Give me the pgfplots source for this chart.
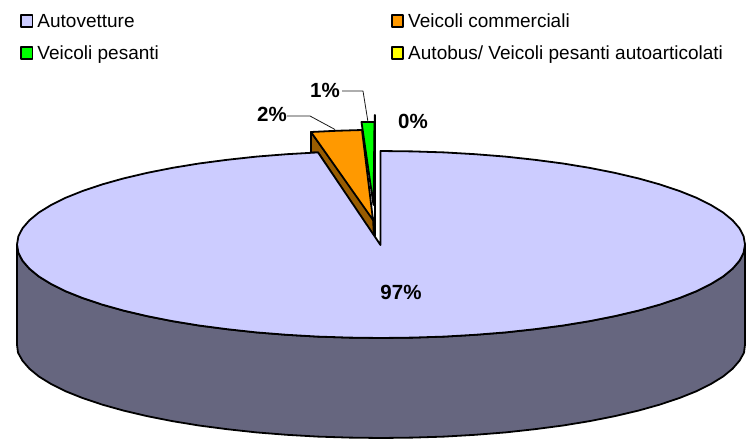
\documentclass[border=0pt]{standalone}
\usepackage{pgfplots}
\pgfplotsset{compat=1.18}
\usepackage{fontspec}
\setmainfont{Liberation Sans}
\definecolor{pl}{HTML}{CCCCFF}
\definecolor{pd}{HTML}{66667F}
\definecolor{og}{HTML}{FF9900}
\definecolor{br}{HTML}{995C00}
\definecolor{gr}{HTML}{00FF00}
\definecolor{ye}{HTML}{FFFF00}
\begin{document}
\begin{tikzpicture}
\useasboundingbox (0,0) rectangle (747pt,439pt);
\begin{axis}[
  width=747pt,height=439pt,scale only axis,hide axis,clip=false,
  xmin=0,xmax=747,ymin=0,ymax=439,y dir=reverse,
  legend columns=2,
  legend cell align=left,
  legend style={draw=none,fill=none,at={(0.027,0.971)},anchor=north west,
    font=\fontsize{19}{20}\selectfont,inner sep=0pt,outer sep=0pt,
    row sep=14.5pt,
    /tikz/column 1/.style={column sep=3pt},
    /tikz/column 2/.style={column sep=231pt},
    /tikz/column 3/.style={column sep=3pt},
    nodes={inner sep=1pt,outer sep=0pt}},
  every axis plot/.append style={line width=1.8pt,line join=round},
  legend image code/.code={\draw[#1,line width=1.8pt] (0pt,-5.5pt) rectangle (11.5pt,6pt);},
  pie/.style={draw=black,line width=1.8pt,line join=round},
]
% side of the main slice
\addplot[pie,fill=pd,forget plot] coordinates {
(745,244.5)(745,344.5)(744,352.7)(739.5,360.7)(732.6,368.7)(723.1,376.5)(710.9,384)(696.2,391.3)(679.2,398.1)(659.8,404.6)(638.4,410.6)(615,416.1)(589.8,421.1)(563,425.5)(534.8,429.2)(505.5,432.4)(475.2,434.8)(444.2,436.6)(412.7,437.6)(381,438)
(349.3,437.6)(317.8,436.6)(286.8,434.8)(256.5,432.4)(227.2,429.2)(199,425.5)(172.2,421.1)(147,416.1)(123.6,410.6)(102.2,404.6)(82.8,398.1)(65.8,391.3)(51.1,384)(38.9,376.5)(29.4,368.7)(22.5,360.7)(18,352.7)(17,344.5)(17,244.5)
(18.4,252.7)(22.5,260.7)(29.4,268.7)(38.9,276.5)(51.1,284)(65.8,291.3)(82.8,298.1)(102.2,304.6)(123.6,310.6)(147,316.1)(172.2,321.1)(199,325.5)(227.2,329.2)(256.5,332.4)(286.8,334.8)(317.8,336.6)(349.3,337.6)(381,338)
(412.7,337.6)(444.2,336.6)(475.2,334.8)(505.5,332.4)(534.8,329.2)(563,325.5)(589.8,321.1)(615,316.1)(638.4,310.6)(659.8,304.6)(679.2,298.1)(696.2,291.3)(710.9,284)(723.1,276.5)(732.6,268.7)(739.5,260.7)(743.6,252.7)
} -- cycle;
% side of the orange slice
\addplot[pie,fill=br,forget plot] coordinates {
(311,132)(311,152.4)(318,152.4)(374,237)(373,218)} -- cycle;
% top of the main slice
\addplot[pie,fill=pl] coordinates {
(380.5,245)(380.5,151)(412.7,151.4)(444.2,152.4)(475.2,154.2)(505.5,156.6)(534.8,159.8)(563,163.5)(589.8,167.9)(615,172.9)(638.4,178.4)(659.8,184.4)(679.2,190.9)(696.2,197.7)(710.9,205)(723.1,212.5)(732.6,220.3)(739.5,228.3)(743.6,236.3)(745,244.5)
(743.6,252.7)(739.5,260.7)(732.6,268.7)(723.1,276.5)(710.9,284)(696.2,291.3)(679.2,298.1)(659.8,304.6)(638.4,310.6)(615,316.1)(589.8,321.1)(563,325.5)(534.8,329.2)(505.5,332.4)(475.2,334.8)(444.2,336.6)(412.7,337.6)(381,338)
(349.3,337.6)(317.8,336.6)(286.8,334.8)(256.5,332.4)(227.2,329.2)(199,325.5)(172.2,321.1)(147,316.1)(123.6,310.6)(102.2,304.6)(82.8,298.1)(65.8,291.3)(51.1,284)(38.9,276.5)(29.4,268.7)(22.5,260.7)(18.4,252.7)(17,244.5)
(18.4,236.3)(22.5,228.3)(29.4,220.3)(38.9,212.5)(51.1,205)(65.8,197.7)(82.8,190.9)(102.2,184.4)(123.6,178.4)(147,172.9)(172.2,167.9)(199,163.5)(227.2,159.8)(256.5,156.6)(286.8,154.2)(318,152.4)
} -- cycle;
\addlegendentry{Autovetture}
% orange top
\addplot[pie,fill=og] coordinates {
(311,132)(336,130.8)(362,130)(373,220)} -- cycle;
\addlegendentry{Veicoli commerciali}
% green top
\addplot[pie,fill=gr] coordinates {
(361.5,122)(374.5,122)(373.5,205)} -- cycle;
\addlegendentry{Veicoli pesanti}
% yellow (0 %), seen as a line
\addplot[pie,fill=ye] coordinates {
(374.7,115)(375,115)(375,236)} -- cycle;
\addlegendentry{Autobus/ Veicoli pesanti autoarticolati}
% leader lines
\addplot[draw=black!90,line width=0.8pt,forget plot] coordinates {(342,91)(363,91)(368,122)};
\addplot[draw=black!90,line width=0.8pt,forget plot] coordinates {(287,116)(310,116)(335,129.5)};
% labels
\node[font=\fontsize{20.5}{22}\selectfont\bfseries] at (axis cs:401,292) {97\%};
\node[font=\fontsize{20.5}{22}\selectfont\bfseries] at (axis cs:413,121) {0\%};
\node[font=\fontsize{20.5}{22}\selectfont\bfseries] at (axis cs:325,90) {1\%};
\node[font=\fontsize{20.5}{22}\selectfont\bfseries] at (axis cs:272,114.5) {2\%};
\end{axis}
\end{tikzpicture}
\end{document}
